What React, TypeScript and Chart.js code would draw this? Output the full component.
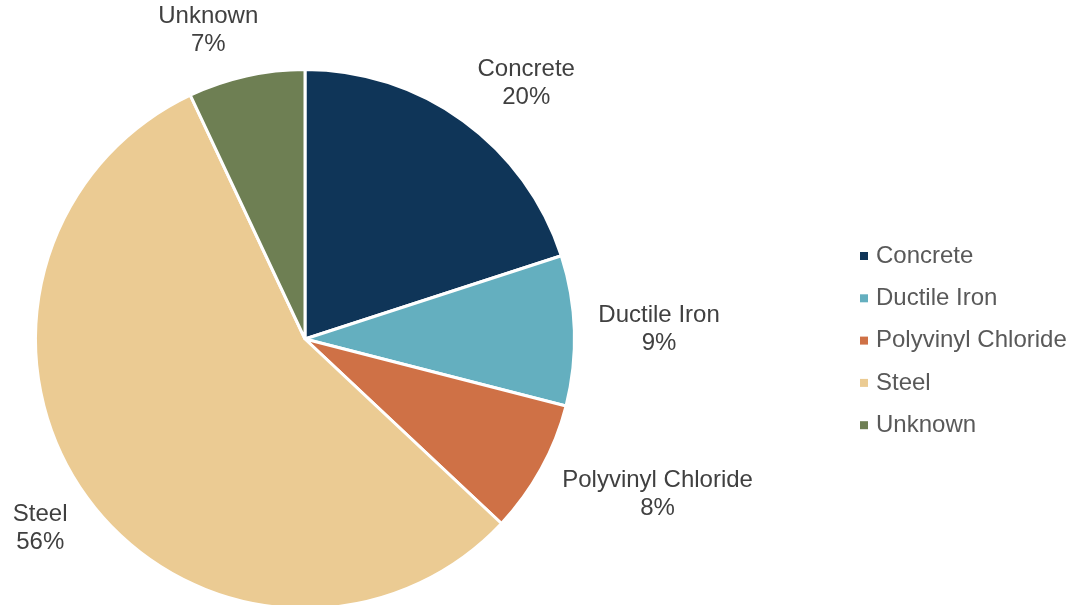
import React, { useEffect, useRef } from "react";
import { Chart, registerables } from "chart.js";

Chart.register(...registerables);

const categories = ["Concrete", "Ductile Iron", "Polyvinyl Chloride", "Steel", "Unknown"];
const shares = [20, 9, 8, 56, 7];
const colors = ["#0F3558", "#64AFBF", "#CF7146", "#EBCB93", "#6E7F53"];

const FONT = "Arial, 'Liberation Sans', sans-serif";

const labelPlugin = {
  id: "outsideLabels",
  afterDatasetsDraw(chart: any) {
    const ctx = chart.ctx;
    const meta = chart.getDatasetMeta(0);
    const data = chart.data.datasets[0].data as number[];
    const total = data.reduce((a, b) => a + b, 0);
    ctx.save();
    ctx.font = `24px ${FONT}`;
    ctx.fillStyle = "#404040";
    ctx.textAlign = "center";
    ctx.textBaseline = "middle";
    const lineH = 28;
    meta.data.forEach((arc: any, i: number) => {
      const { x, y, startAngle, endAngle, outerRadius } = arc.getProps(
        ["x", "y", "startAngle", "endAngle", "outerRadius"],
        true
      );
      const mid = (startAngle + endAngle) / 2;
      const cosA = Math.cos(mid);
      const sinA = Math.sin(mid);
      const l1 = String(chart.data.labels[i]);
      const l2 = Math.round((data[i] / total) * 100) + "%";
      const w = Math.max(ctx.measureText(l1).width, ctx.measureText(l2).width);
      const hw = w / 2;
      const hh = sinA < 0 ? lineH * 0.8 : lineH;
      const d = outerRadius + 24;
      const px = x + d * cosA;
      const py = y + d * sinA;
      const k = Math.max(-1, Math.min(1, cosA * 3));
      const cx = px + hw * k;
      const cy = py + hh * sinA;
      ctx.fillText(l1, cx, cy - lineH / 2);
      ctx.fillText(l2, cx, cy + lineH / 2);
    });
    ctx.restore();
  },
  afterDraw(chart: any) {
    const ctx = chart.ctx;
    const ds = chart.data.datasets[0];
    ctx.save();
    ctx.font = `24px ${FONT}`;
    ctx.textBaseline = "middle";
    ctx.textAlign = "left";
    const x0 = 860;
    const y0 = 256;
    const gap = 42.3;
    chart.data.labels.forEach((lab: string, i: number) => {
      const yy = y0 + i * gap;
      ctx.fillStyle = (ds.backgroundColor as string[])[i];
      ctx.fillRect(x0, yy - 4, 8, 8);
      ctx.fillStyle = "#595959";
      ctx.fillText(lab, x0 + 16, yy);
    });
    ctx.restore();
  },
};

export default function App() {
  const ref = useRef<HTMLCanvasElement | null>(null);
  useEffect(() => {
    document.body.style.margin = "0";
    document.body.style.overflow = "hidden";
    const canvas = ref.current!;
    const chart = new Chart(canvas, {
      type: "pie",
      data: {
        labels: categories,
        datasets: [
          {
            data: shares,
            backgroundColor: colors,
            borderColor: "#FFFFFF",
            borderWidth: 3,
          },
        ],
      },
      options: {
        responsive: false,
        animation: false,
        devicePixelRatio: 1,
        layout: { padding: { left: 34, right: 503, top: 68, bottom: 10 } },
        plugins: {
          legend: { display: false },
          tooltip: { enabled: false },
        },
      },
      plugins: [labelPlugin],
    });
    return () => chart.destroy();
  }, []);
  return (
    <div
      style={{
        position: "absolute",
        left: 0,
        top: 0,
        width: 1079,
        height: 605,
        overflow: "hidden",
        background: "#FFFFFF",
      }}
    >
      <canvas ref={ref} width={1079} height={620} style={{ display: "block" }} />
    </div>
  );
}
